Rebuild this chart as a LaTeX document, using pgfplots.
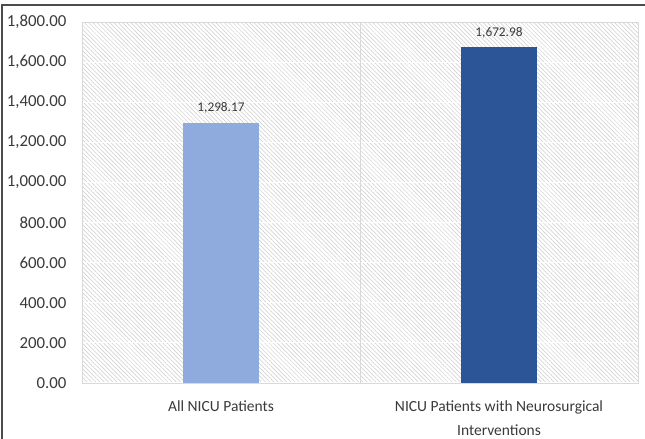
\documentclass[border=0pt]{standalone}
\usepackage{pgfplots}
\pgfplotsset{compat=1.18}
\usepackage{fontspec}
\setmainfont{Carlito}
\usetikzlibrary{patterns.meta}
\definecolor{lightbar}{HTML}{8FAADC}
\definecolor{darkbar}{HTML}{2B5597}
\definecolor{hatch}{HTML}{CCCCCC}
\definecolor{txt}{HTML}{3A3A3A}
\begin{document}
\begin{tikzpicture}
\useasboundingbox (0,0) rectangle (645bp,439bp);
\fill[white] (0,0) rectangle (645bp,439bp);
\begin{axis}[
  at={(82bp,56bp)}, anchor=south west,
  scale only axis, width=556bp, height=361bp,
  xmin=-0.5, xmax=1.5, ymin=0, ymax=1800,
  ytick distance=200,
  xtick={0,1},
  xticklabels={All NICU Patients, NICU Patients with Neurosurgical\\Interventions},
  xticklabel style={font=\fontsize{15.5bp}{24bp}\selectfont, text=txt, align=center, yshift=-14bp},
  yticklabel style={font=\fontsize{16.8bp}{18bp}\selectfont, text=txt, xshift=-12bp},
  /pgf/number format/assume math mode=true,
  yticklabel={\pgfmathprintnumber[fixed, fixed zerofill, precision=2, 1000 sep={,}]{\tick}},
  major tick length=0pt,
  axis line style={draw=black!15},
  ymajorgrids, major grid style={white, line width=1.2bp},
  extra x ticks={0.5}, extra x tick labels={},
  extra x tick style={xmajorgrids, major grid style={black!15, line width=0.8bp}},
  axis background/.style={pattern={Lines[angle=-45, distance=3bp, line width=0.5bp]}, pattern color=hatch},
  ybar, bar width=76bp,
  nodes near coords,
  nodes near coords style={font=\fontsize{13.3bp}{14bp}\selectfont, text=txt, /pgf/number format/.cd, fixed, fixed zerofill, precision=2, 1000 sep={,}, assume math mode=true, /tikz/.cd, yshift=6bp},
]
\addplot[fill=lightbar, draw=none, bar shift=0pt] coordinates {(0,1298.17)};
\addplot[fill=darkbar, draw=none, bar shift=0pt] coordinates {(1,1672.98)};
\end{axis}
\draw[black!70, line width=1.5bp] (2bp,0) -- (2bp,434bp) -- (645bp,434bp);
\end{tikzpicture}
\end{document}
